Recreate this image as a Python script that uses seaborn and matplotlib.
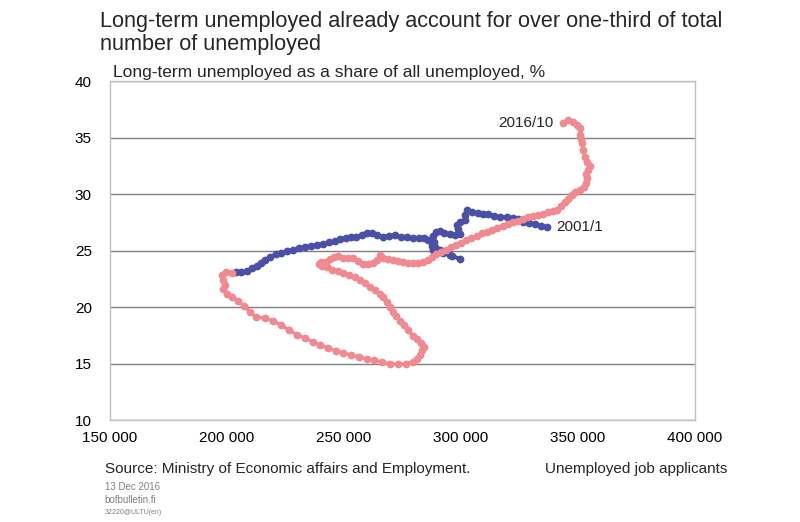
import pandas as pd
import seaborn as sns
import matplotlib.pyplot as plt
from matplotlib.ticker import FuncFormatter

sns.set_style('white')
plt.rcParams['font.family'] = ['Liberation Sans', 'DejaVu Sans']

BLUE = '#4a50a5'
PINK = '#f08a90'

# unemployed job applicants (x) and long-term share, % (y)
# blue: from 2001/1 onwards, pink: continues to 2016/10
blue_x = [336750, 334190, 331620, 329060, 326500, 324360, 322220, 319660,
          316670, 314100, 311540, 309400, 307270, 304700, 302560, 301710,
          301710, 299570, 298290, 298720, 299570, 297440, 295300, 292730,
          291030, 289320, 288030, 288460, 288890, 288030, 292310, 296150,
          299570, 295300, 291030, 287610, 285900, 284190, 282050, 279490,
          276920, 274360, 271800, 269230, 266670, 264100, 261970, 259830,
          257690, 255130, 252990, 250850, 248290, 246150, 243590, 241030,
          238460, 235900, 233330, 230770, 228210, 225640, 223080, 220940,
          218380, 216240, 214530, 212820, 210680, 208550, 205980, 203850]
blue_y = [27.11, 27.20, 27.38, 27.46, 27.55, 27.82, 27.91, 28.00,
          28.00, 28.08, 28.26, 28.26, 28.35, 28.44, 28.62, 28.17,
          27.73, 27.55, 27.29, 26.93, 26.49, 26.40, 26.49, 26.58,
          26.75, 26.67, 26.31, 25.78, 25.34, 25.07, 24.80, 24.54,
          24.27, 24.63, 25.07, 25.43, 25.96, 26.13, 26.13, 26.13,
          26.22, 26.22, 26.40, 26.31, 26.22, 26.40, 26.58, 26.58,
          26.40, 26.22, 26.22, 26.13, 26.05, 25.87, 25.78, 25.60,
          25.51, 25.43, 25.34, 25.25, 25.07, 24.98, 24.80, 24.72,
          24.45, 24.18, 23.92, 23.65, 23.47, 23.21, 23.12, 23.12]

pink_x = [202140, 199570, 197860, 198290, 199150, 198290, 200000, 202140,
          204700, 207260, 209830, 212390, 216240, 219660, 223080, 226500,
          229910, 233330, 236750, 239740, 243160, 246580, 249570, 252990,
          256410, 259830, 262820, 266240, 269660, 273080, 276500, 279490,
          281200, 282480, 283330, 284190, 282910, 281200, 279490, 277350,
          275640, 273930, 272220, 270940, 269660, 268380, 266670, 265380,
          263250, 261110, 258970, 256840, 254700, 252140, 249570, 247440,
          244870, 242740, 240600, 239320, 240170, 242310, 244020, 245730,
          247440, 249570, 251710, 253850, 255980, 258120, 260260, 262390,
          264100, 265380, 266670, 268800, 270940, 273080, 275210, 277350,
          279490, 281620, 283760, 285900, 287610, 289320, 291450, 293590,
          295730, 297860, 300000, 302140, 304270, 306840, 308970, 311110,
          313250, 315380, 317950, 320090, 322220, 324360, 326500, 328630,
          330770, 332910, 335040, 337180, 339320, 341030, 342740, 344440,
          345730, 347440, 348720, 350850, 352560, 353420, 353850, 353420,
          354270, 355130, 353850, 352990, 352140, 351710, 351280, 350850,
          350850, 349570, 347860, 345730, 343590]
pink_y = [23.03, 23.12, 22.85, 22.41, 21.97, 21.61, 21.17, 20.90,
          20.55, 20.11, 19.57, 19.13, 19.04, 18.78, 18.42, 17.98,
          17.54, 17.27, 16.91, 16.65, 16.38, 16.12, 15.94, 15.76,
          15.58, 15.41, 15.32, 15.14, 14.96, 14.96, 14.96, 15.14,
          15.41, 15.76, 16.21, 16.47, 16.83, 17.18, 17.45, 17.98,
          18.42, 18.78, 19.22, 19.57, 20.02, 20.46, 20.90, 21.17,
          21.52, 21.79, 22.15, 22.41, 22.68, 22.85, 23.03, 23.21,
          23.30, 23.56, 23.65, 23.83, 24.01, 24.01, 24.27, 24.45,
          24.54, 24.36, 24.36, 24.36, 24.10, 23.83, 23.83, 23.92,
          24.18, 24.63, 24.36, 24.27, 24.18, 24.10, 24.01, 23.92,
          23.92, 23.92, 24.01, 24.18, 24.45, 24.72, 24.89, 25.07,
          25.34, 25.51, 25.69, 25.96, 26.13, 26.31, 26.58, 26.67,
          26.84, 27.02, 27.20, 27.38, 27.55, 27.64, 27.82, 28.00,
          28.08, 28.17, 28.26, 28.44, 28.53, 28.62, 28.97, 29.33,
          29.59, 29.95, 30.21, 30.39, 30.66, 31.01, 31.45, 31.81,
          32.16, 32.52, 32.87, 33.31, 33.94, 34.56, 34.91, 35.27,
          35.89, 36.15, 36.42, 36.60, 36.33]

x_ticks = [150000, 200000, 250000, 300000, 350000, 400000]
y_ticks = [10, 15, 20, 25, 30, 35, 40]


def main():
    blue_df = pd.DataFrame({'applicants': blue_x, 'share': blue_y})
    pink_df = pd.DataFrame({'applicants': pink_x, 'share': pink_y})

    fig = plt.figure(figsize=(8, 5.22), dpi=100)
    ax = fig.add_axes([0.1375, 0.1954, 0.7313, 0.6485])

    # estimator=None keeps every point in order (no aggregation)
    for df, col in [(blue_df, BLUE), (pink_df, PINK)]:
        sns.lineplot(data=df, x='applicants', y='share', sort=False,
                     estimator=None, errorbar=None,
                     color=col, linewidth=2.5, marker='o', markersize=5.6,
                     markeredgewidth=0, ax=ax)

    ax.set_xlim(150000, 400000)
    ax.set_ylim(10, 40)
    ax.set_xticks(x_ticks)
    ax.set_yticks(y_ticks)
    ax.xaxis.set_major_formatter(
        FuncFormatter(lambda v, p: f'{int(v):,}'.replace(',', ' ')))
    ax.set_xlabel('')
    ax.set_ylabel('')
    ax.tick_params(length=0, labelsize=11, colors='black')
    ax.tick_params(axis='y', pad=13)
    ax.tick_params(axis='x', pad=8)
    ax.yaxis.grid(True, color='#808080', linewidth=1)
    ax.set_axisbelow(True)
    for s in ax.spines.values():
        s.set_color('#c0c0c0')
        s.set_linewidth(1)

    ax.annotate('2016/10', xy=(pink_x[-1], pink_y[-1]), xytext=(-7, 0),
                textcoords='offset points', ha='right', va='center',
                fontsize=11)
    ax.annotate('2001/1', xy=(blue_x[0], blue_y[0]), xytext=(7, 0),
                textcoords='offset points', ha='left', va='center',
                fontsize=11)

    fig.text(0.125, 0.978, 'Long-term unemployed already account for over '
             'one-third of total\nnumber of unemployed', ha='left', va='top',
             fontsize=15.6, linespacing=1.1)
    fig.text(0.141, 0.862, 'Long-term unemployed as a share of all '
             'unemployed, %', ha='left', va='center', fontsize=12.5)
    fig.text(0.131, 0.102, 'Source: Ministry of Economic affairs and '
             'Employment.', ha='left', va='center', fontsize=11)
    fig.text(0.909, 0.102, 'Unemployed job applicants', ha='right',
             va='center', fontsize=11)
    fig.text(0.131, 0.067, '13 Dec 2016', ha='left', va='center',
             fontsize=7, color='#808080')
    fig.text(0.131, 0.042, 'bofbulletin.fi', ha='left', va='center',
             fontsize=7, color='#808080')
    fig.text(0.131, 0.019, '32220@ULTU(en)', ha='left', va='center',
             fontsize=5, color='#808080')

    fig.savefig('out.png', dpi=100, facecolor='white')


if __name__ == "__main__":
    main()
